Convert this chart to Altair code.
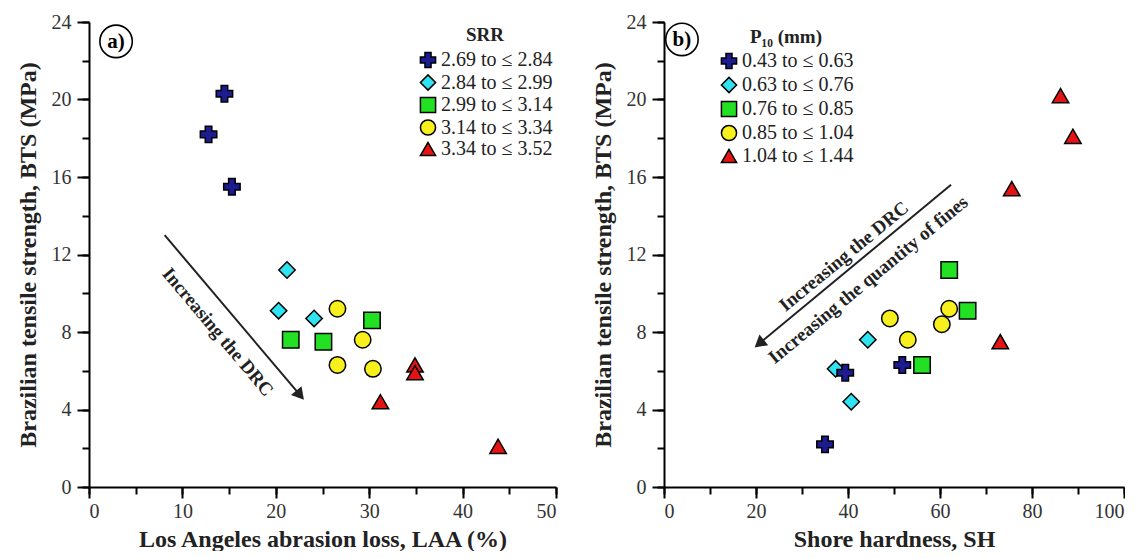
import altair as alt
import pandas as pd

FONT = "Liberation Serif"

SRR_CATS = ["2.69 to ≤ 2.84", "2.84 to ≤ 2.99", "2.99 to ≤ 3.14", "3.14 to ≤ 3.34", "3.34 to ≤ 3.52"]
P10_CATS = ["0.43 to ≤ 0.63", "0.63 to ≤ 0.76", "0.76 to ≤ 0.85", "0.85 to ≤ 1.04", "1.04 to ≤ 1.44"]
SHAPES = ["cross", "diamond", "square", "circle", "triangle-up"]
COLORS = ["#1c1c8f", "#2fe3f0", "#22e022", "#f7f01c", "#e41414"]

# Panel a: Los Angeles abrasion loss vs BTS
laa = [14.5, 12.8, 15.3, 21.2, 20.3, 24.1, 21.6, 25.1, 30.3, 26.6, 29.3, 26.6, 30.4, 34.9, 34.9, 31.2, 43.8]
bts_a = [20.3, 18.2, 15.5, 11.2, 9.1, 8.7, 7.6, 7.5, 8.6, 9.2, 7.6, 6.3, 6.1, 6.3, 5.9, 4.4, 2.1]
grp_a = [0, 0, 0, 1, 1, 1, 2, 2, 2, 3, 3, 3, 3, 4, 4, 4, 4]

# Panel b: Shore hardness vs BTS
sh = [44.3, 37.3, 40.7, 35.0, 39.4, 51.8, 62.0, 66.0, 56.1, 62.0, 60.4, 49.1, 53.0, 86.2, 88.9, 75.6, 73.1]
bts_b = [7.6, 6.1, 4.4, 2.2, 5.9, 6.3, 11.2, 9.1, 6.3, 9.2, 8.4, 8.7, 7.6, 20.2, 18.1, 15.4, 7.5]
grp_b = [1, 1, 1, 0, 0, 0, 2, 2, 2, 3, 3, 3, 3, 4, 4, 4, 4]

df_a = pd.DataFrame({"x": laa, "y": bts_a, "cat": [SRR_CATS[g] for g in grp_a]})
df_b = pd.DataFrame({"x": sh, "y": bts_b, "cat": [P10_CATS[g] for g in grp_b]})

Y_TITLE = "Brazilian tensile strength, BTS (MPa)"


def panel(df, cats, xmax, xmajor, xminor, xtitle, legend_title, legx, legy, rowpad, tpad,
          arrow, head, head_angle, texts, text_angle, tag, tagpos, width):
    xs = alt.Scale(domain=[0, xmax], nice=False, zero=True)
    ys = alt.Scale(domain=[0, 24], nice=False, zero=True)
    leg = alt.Legend(title=legend_title, orient="none", legendX=legx, legendY=legy,
                     titleAnchor="middle", titleFont=FONT, titleFontSize=19, titleFontWeight="bold",
                     titleColor="#222", titlePadding=tpad,
                     labelFont=FONT, labelFontSize=20, labelColor="#222", symbolSize=230,
                     symbolStrokeColor="black", symbolStrokeWidth=1.5, rowPadding=rowpad,
                     labelOffset=3, padding=0)
    pts = alt.Chart(df).mark_point(filled=True, size=270, stroke="black", strokeWidth=1.5, opacity=1).encode(
        x=alt.X("x:Q", scale=xs, axis=alt.Axis(values=xmajor, title=xtitle, orient="bottom", tickSize=11,
                                               labelPadding=3, titlePadding=6)),
        y=alt.Y("y:Q", scale=ys, axis=alt.Axis(values=[0, 4, 8, 12, 16, 20, 24], title=Y_TITLE, orient="left",
                                               tickSize=12, labelPadding=6, titlePadding=11)),
        color=alt.Color("cat:N", scale=alt.Scale(domain=cats, range=COLORS), legend=leg),
        shape=alt.Shape("cat:N", scale=alt.Scale(domain=cats, range=SHAPES), legend=leg),
    )
    minor = alt.Chart(df).mark_point(opacity=0).encode(
        x=alt.X("x:Q", scale=xs, axis=alt.Axis(values=xminor, title=None, labels=False, domain=False,
                                               orient="bottom", tickSize=7)),
        y=alt.Y("y:Q", scale=ys, axis=alt.Axis(values=list(range(0, 25, 2)), title=None, labels=False,
                                               domain=False, orient="left", tickSize=7)),
    )
    adf = pd.DataFrame([arrow])
    line = alt.Chart(adf).mark_rule(color="#222", strokeWidth=2).encode(
        x=alt.X("x1:Q", scale=xs, axis=None), y=alt.Y("y1:Q", scale=ys, axis=None),
        x2="x2:Q", y2="y2:Q")
    hdf = pd.DataFrame([head])
    hd = alt.Chart(hdf).mark_point(shape="triangle-up", filled=True, color="#222", size=190, opacity=1,
                                   angle=head_angle).encode(
        x=alt.X("x:Q", scale=xs, axis=None), y=alt.Y("y:Q", scale=ys, axis=None))
    tdf = pd.DataFrame(texts)
    txt = alt.Chart(tdf).mark_text(font=FONT, fontSize=19, fontWeight="bold", color="#222",
                                   angle=text_angle, align="center", baseline="middle").encode(
        x=alt.X("x:Q", scale=xs, axis=None), y=alt.Y("y:Q", scale=ys, axis=None), text="t:N")
    gdf = pd.DataFrame([{"x": tagpos[0], "y": tagpos[1], "t": tag}])
    ring = alt.Chart(gdf).mark_point(shape="circle", filled=False, size=1050, color="black",
                                     strokeWidth=1.6, opacity=1).encode(
        x=alt.X("x:Q", scale=xs, axis=None), y=alt.Y("y:Q", scale=ys, axis=None))
    tagt = alt.Chart(gdf).mark_text(font=FONT, fontSize=21, fontWeight="bold", color="black",
                                    align="center", baseline="middle", dy=1).encode(
        x=alt.X("x:Q", scale=xs, axis=None), y=alt.Y("y:Q", scale=ys, axis=None), text="t:N")
    return alt.layer(pts, minor, line, hd, txt, ring, tagt).resolve_axis(x="independent", y="independent") \
        .properties(width=width, height=465)


pa = panel(df_a, SRR_CATS, 50, [0, 10, 20, 30, 40, 50], list(range(0, 51, 5)),
           "Los Angeles abrasion loss, LAA (%)", "SRR", 329, 4, 0.5, 5,
           {"x1": 8.1, "y1": 13.0, "x2": 22.6, "y2": 4.74}, {"x": 22.6, "y": 4.74}, 140,
           [{"x": 13.8, "y": 8.0, "t": "Increasing the DRC"}], 50, "a)", (2.9, 23.0), 467)

pb = panel(df_b, P10_CATS, 100, [0, 20, 40, 60, 80, 100], list(range(0, 101, 10)),
           "Shore hardness, SH", "P₁₀ (mm)", 55, 6, 2, 4,
           {"x1": 62.4, "y1": 15.6, "x2": 20.7, "y2": 7.4}, {"x": 20.7, "y": 7.4}, 230.5,
           [{"x": 39.1, "y": 11.9, "t": "Increasing the DRC"},
            {"x": 44.4, "y": 10.7, "t": "Increasing the quantity of fines"}], 320.5, "b)", (3.9, 23.1), 460)

chart = alt.hconcat(pa, pb, spacing=34).resolve_scale(color="independent", shape="independent").configure(
    font=FONT, background="white", padding={"left": 8, "top": 4, "right": 0, "bottom": 0}
).configure_view(stroke=None).configure_axis(
    grid=False, domainColor="black", domainWidth=2, tickColor="black", tickWidth=2,
    labelFont=FONT, labelFontSize=20, labelColor="#333", titleFont=FONT, titleFontSize=24,
    titleFontWeight="bold", titleColor="#222"
)

chart.save("out.html", embed_options={"renderer": "svg", "actions": False})
